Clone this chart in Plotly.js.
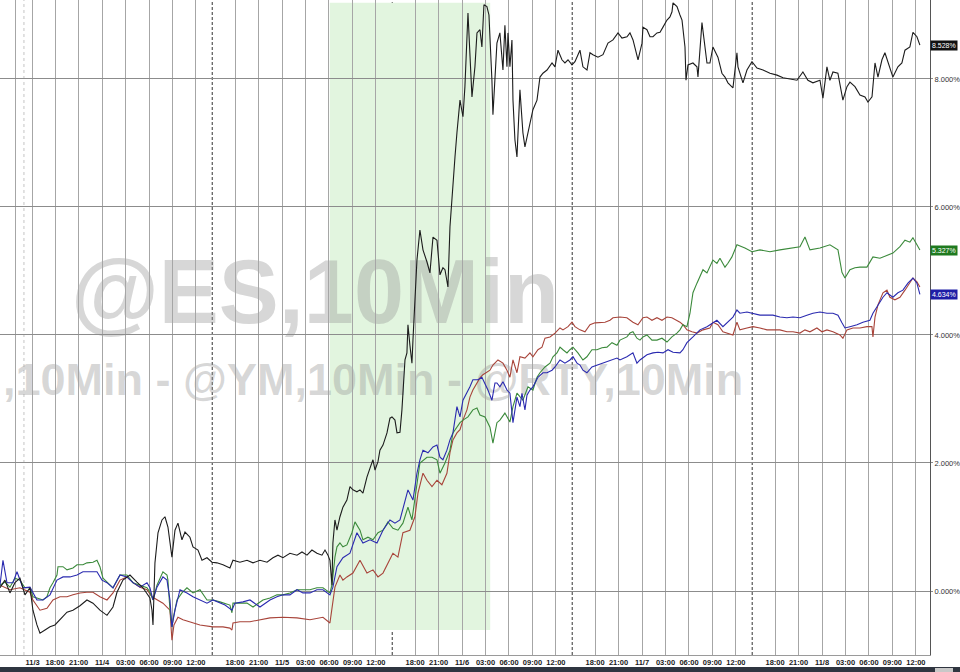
<!DOCTYPE html>
<html><head><meta charset="utf-8">
<script src="https://cdn.plot.ly/plotly-3.0.1.min.js"></script>
<style>html,body{margin:0;padding:0;background:#fff;overflow:hidden}#chart{width:960px;height:672px}
#statusbar{position:fixed;left:0;bottom:0;width:100%;height:4px;background:#2f3540;z-index:10}
#statusbar div{position:absolute;left:935px;width:18px;height:4px;background:#c8c8c8}</style>
</head><body><div id="chart"></div><div id="statusbar"><div></div></div>
<script>
// Time axis: trading hours; each session is 23 h (17:00 open, 16:00 close CT-style)
const tickHours = [-4, -1.87, 1, 4, 7, 10, 13, 16, 19, 24, 27, 30, 33, 36, 39, 42, 47, 50, 53, 56, 59, 62, 65, 70, 73, 76, 79, 82, 85, 88, 93, 96, 99, 102, 105, 108, 111];
const tickLabels = ['', '11/3', '18:00', '21:00', '11/4', '03:00', '06:00', '09:00', '12:00', '18:00', '21:00', '11/5', '03:00', '06:00', '09:00', '12:00', '18:00', '21:00', '11/6', '03:00', '06:00', '09:00', '12:00', '18:00', '21:00', '11/7', '03:00', '06:00', '09:00', '12:00', '18:00', '21:00', '11/8', '03:00', '06:00', '09:00', '12:00'];
const sessionBreaks = [21.08, 44.08, 67.08, 90.08];
const weekendBreak = [-2.98];
const shadeWindow = [36.1, 56.6];
const pctTicks = [0, 2, 4, 6, 8];
const pctLabels = ['0.000%', '2.000%', '4.000%', '6.000%', '8.000%'];

// Black series (% change)
const blackT = [-6.04,-5.41,-4.77,-4.13,-3.49,-2.85,-2.21,-1.83,-1.32,-0.93,-0.29,0.35,0.98,1.62,2.52,3.28,4.18,5.07,5.84,6.73,7.63,8.40,8.91,9.67,10.57,11.46,12.23,13.12,13.38,13.51,13.76,14.15,14.66,15.04,15.42,15.93,16.32,16.70,17.21,17.60,18.23,18.62,19.26,19.77,20.41,21.05,21.68,22.45,23.34,23.73,24.62,25.52,26.29,27.18,28.08,28.84,29.48,30.12,31.01,31.91,32.55,33.19,33.82,34.46,35.10,35.49,35.87,36.12,36.38,36.50,36.76,37.02,37.40,37.78,38.29,38.68,39.06,39.57,39.96,40.34,40.85,41.24,41.62,41.88,42.26,42.51,42.90,43.41,43.79,44.05,44.43,44.69,45.07,45.32,45.71,45.96,46.09,46.34,46.60,46.73,46.98,47.24,47.62,48.01,48.52,48.90,49.29,49.80,50.18,50.56,50.82,51.20,51.46,51.84,52.10,52.35,52.74,53.12,53.37,53.76,54.01,54.27,54.65,54.91,55.29,55.54,55.80,56.18,56.44,56.57,56.82,56.95,57.21,57.46,57.84,58.23,58.48,58.74,58.87,59.12,59.38,59.51,59.76,60.02,60.40,60.78,61.04,61.43,62.06,62.58,62.96,63.34,63.86,64.50,64.88,65.26,65.77,66.15,66.54,67.05,67.43,68.07,68.45,68.97,69.35,69.73,70.37,71.01,71.65,72.29,72.93,73.44,74.08,74.46,74.85,75.49,76.00,76.12,76.63,77.02,77.40,77.91,78.30,78.68,79.19,79.57,79.83,79.96,80.47,80.85,81.11,81.49,81.62,81.87,82.51,83.02,83.15,83.66,83.91,84.30,84.68,85.06,85.70,86.21,86.60,86.98,87.62,88.13,88.26,88.90,89.41,90.05,90.69,91.46,92.35,93.25,94.02,94.91,95.80,96.56,97.20,97.84,98.74,99.12,99.63,100.01,100.40,101.03,101.67,102.19,102.57,103.21,103.85,104.49,104.87,105.39,105.77,106.15,106.66,107.04,107.43,108.06,108.70,109.21,109.60,110.23,110.62,111.13,111.51];
const blackV = [0.05,0.17,-0.03,0.13,0.20,-0.06,0.05,-0.30,-0.53,-0.66,-0.61,-0.56,-0.53,-0.45,-0.33,-0.30,-0.23,-0.14,-0.19,-0.30,-0.38,-0.25,-0.02,0.17,0.25,0.14,0.05,-0.11,-0.30,-0.53,0.44,0.91,1.11,1.16,1.00,0.53,0.95,1.06,0.80,0.92,0.84,0.69,0.64,0.48,0.52,0.45,0.44,0.41,0.36,0.48,0.45,0.48,0.44,0.48,0.45,0.52,0.56,0.52,0.59,0.56,0.61,0.56,0.64,0.59,0.56,0.64,0.56,0.48,0.09,0.75,1.11,0.95,1.16,1.31,1.42,1.63,1.58,1.55,1.58,1.53,1.78,1.92,2.05,1.89,2.02,2.20,2.28,2.47,2.70,2.72,2.67,2.47,2.48,2.83,3.61,3.72,4.16,3.84,3.56,3.92,4.55,5.17,5.64,5.33,5.14,4.97,5.53,5.48,4.94,5.05,5.02,4.75,5.69,6.42,6.78,7.16,7.67,7.41,7.88,9.03,8.45,7.72,8.19,8.72,8.77,8.50,9.16,9.13,9.00,8.72,7.98,7.44,7.98,8.56,8.72,8.14,8.84,8.19,8.72,8.19,8.61,7.67,7.05,6.78,7.83,7.16,6.94,7.16,7.52,7.67,8.03,8.09,8.14,8.25,8.19,8.45,8.30,8.25,8.30,8.22,8.27,8.45,8.19,8.14,8.41,8.38,8.34,8.38,8.56,8.61,8.72,8.64,8.66,8.72,8.61,8.30,8.56,8.81,8.77,8.66,8.66,8.72,8.73,8.81,8.92,8.97,9.05,9.19,9.13,9.00,8.92,8.50,7.98,8.22,8.25,8.19,8.03,8.88,8.61,8.25,8.25,8.50,8.34,8.09,8.03,7.94,7.86,8.41,8.19,7.94,8.14,8.27,8.17,8.14,8.09,8.06,8.02,8.00,7.98,8.11,7.98,7.94,7.98,7.70,8.19,7.98,8.11,8.09,7.67,7.88,7.95,7.88,7.75,7.72,7.64,7.72,8.25,8.03,8.30,8.41,8.25,8.03,8.19,8.25,8.45,8.50,8.73,8.66,8.528];

// Green series
const greenT = [-6.04,-5.41,-4.77,-4.13,-3.49,-2.85,-2.21,-1.83,-1.32,-0.55,-0.04,0.35,0.73,1.24,1.37,1.62,2.01,2.52,3.28,3.80,4.56,5.07,5.84,6.35,6.73,7.12,7.63,8.40,9.29,10.18,10.95,11.85,12.74,13.12,13.51,14.02,14.78,15.30,15.42,15.68,15.93,16.06,16.57,17.21,17.85,18.62,19.51,20.41,21.17,22.07,23.34,23.60,23.73,24.62,25.52,26.29,27.56,28.46,29.35,30.12,31.01,31.91,32.67,33.57,34.46,35.23,36.12,36.38,36.76,37.02,37.40,37.78,38.29,38.93,39.32,39.57,39.96,40.34,40.98,41.62,42.26,42.90,43.53,44.17,44.81,45.45,46.09,46.60,47.24,47.62,48.52,49.16,49.80,50.18,50.82,51.46,51.84,52.35,52.74,53.12,53.76,54.39,54.91,55.29,55.93,56.57,56.95,57.46,57.84,58.48,59.12,59.51,60.02,60.78,61.43,62.06,62.58,62.96,63.60,64.24,64.62,65.13,65.52,65.90,66.41,66.79,67.18,67.81,68.45,68.96,69.60,70.24,70.88,71.52,72.16,72.80,73.18,74.07,74.46,74.84,75.35,75.74,76.12,76.63,77.27,77.91,78.55,79.19,79.82,80.46,80.85,81.23,81.74,82.13,82.51,83.02,83.40,83.79,84.30,84.68,85.06,85.57,85.96,86.60,86.98,87.49,87.87,88.13,89.15,90.05,91.07,92.35,93.62,94.90,96.18,96.82,97.46,98.74,100.01,101.04,101.55,101.93,102.57,103.21,103.85,104.74,105.51,106.40,107.30,108.06,108.96,109.60,110.23,110.62,111.13,111.51];
const greenV = [0.09,0.14,0.06,0.20,0.17,0.05,0.05,-0.09,-0.11,-0.14,-0.09,0.05,0.13,0.25,0.38,0.38,0.38,0.33,0.36,0.41,0.41,0.44,0.45,0.48,0.38,0.20,0.14,0.05,0.25,0.25,0.13,0.09,0.05,-0.02,-0.14,0.09,0.30,0.25,0.17,-0.30,-0.56,-0.45,-0.14,-0.03,0.05,-0.03,0.02,-0.14,-0.14,-0.17,-0.22,-0.34,-0.19,-0.19,-0.19,-0.25,-0.14,-0.11,-0.06,-0.06,-0.03,0.02,0.02,0.02,0.05,0.05,-0.03,0.09,0.53,0.69,0.75,0.69,0.72,0.91,1.08,1.03,0.95,0.80,0.84,0.80,0.91,0.95,1.08,0.98,0.95,1.06,1.31,1.11,1.63,2.00,2.09,2.09,2.05,1.84,2.00,2.20,2.47,2.56,2.63,2.67,2.72,2.83,2.86,2.75,2.72,2.56,2.31,2.63,2.67,2.78,2.64,2.88,3.09,2.98,3.19,3.14,3.34,3.41,3.50,3.56,3.66,3.72,3.81,3.77,3.72,3.77,3.81,3.72,3.61,3.66,3.77,3.77,3.80,3.81,3.88,3.84,3.92,3.97,4.03,4.05,3.95,3.92,3.97,4.00,3.92,3.92,3.95,3.89,3.97,4.03,4.08,4.16,4.13,4.34,4.66,4.81,4.91,5.02,4.97,5.06,5.17,5.12,5.20,5.06,5.12,5.22,5.33,5.41,5.36,5.30,5.33,5.30,5.33,5.36,5.38,5.53,5.33,5.36,5.41,5.33,4.98,4.89,5.02,5.05,5.06,5.06,5.22,5.20,5.25,5.28,5.38,5.48,5.45,5.52,5.41,5.327];

// Blue series
const blueT = [-6.04,-5.66,-5.15,-4.38,-3.87,-3.11,-2.21,-1.83,-1.32,-0.55,0.35,1.24,2.01,2.90,3.80,4.56,5.46,6.35,6.99,7.63,8.40,9.29,10.18,10.95,11.85,12.74,13.12,13.51,14.02,14.78,15.30,15.68,15.93,16.32,16.96,17.85,18.62,19.51,20.41,21.17,21.68,22.71,23.60,23.98,25.01,25.90,27.18,28.46,29.35,30.12,31.01,31.91,32.67,33.57,34.46,35.23,36.12,36.50,37.02,37.78,38.68,39.57,40.34,41.24,42.13,42.90,43.79,44.43,45.07,45.71,46.09,46.73,47.24,47.62,48.01,48.65,49.29,49.80,50.18,50.56,51.07,51.46,51.84,52.35,52.74,53.12,53.63,54.01,54.39,55.03,55.54,55.93,56.31,56.82,57.21,57.46,57.84,58.23,58.74,59.12,59.51,60.02,60.40,60.66,61.04,61.30,61.68,62.06,62.70,63.34,63.86,64.50,64.88,65.52,66.15,66.79,67.18,67.69,68.07,68.45,68.96,69.60,70.24,70.88,71.52,72.16,72.80,73.18,74.07,74.84,75.35,75.74,76.63,77.40,78.04,78.68,79.32,79.96,80.85,81.23,81.74,82.51,83.40,84.30,85.06,85.57,86.34,86.98,87.62,88.13,88.51,89.41,90.17,91.07,91.96,92.73,93.62,94.52,95.29,96.18,97.07,97.84,98.74,99.63,100.40,101.04,101.55,101.93,102.57,103.47,104.23,105.12,105.51,106.02,106.40,106.79,107.30,108.06,108.70,109.34,109.98,110.62,111.13,111.51];
const blueV = [0.09,0.48,0.13,0.13,0.30,0.05,0.06,-0.03,-0.14,-0.14,-0.06,0.17,0.22,0.22,0.25,0.30,0.30,0.30,0.17,0.13,0.05,0.25,0.22,0.13,0.06,0.13,0.05,-0.14,0.06,0.22,0.17,-0.14,-0.56,-0.30,0.02,-0.03,-0.09,-0.14,-0.19,-0.14,-0.17,-0.22,-0.30,-0.19,-0.17,-0.14,-0.25,-0.14,-0.09,-0.06,-0.06,0.02,-0.03,-0.03,0.02,0.02,-0.06,0.06,0.38,0.52,0.59,0.91,0.75,0.80,0.75,0.95,1.11,1.06,1.11,1.42,1.58,1.42,1.84,2.05,2.20,2.16,2.25,2.28,2.09,2.05,2.20,2.36,2.47,2.88,2.72,2.98,3.09,3.19,3.30,3.30,3.34,3.25,3.14,2.98,3.25,3.25,3.19,3.27,3.14,3.09,2.63,3.03,2.88,3.09,2.83,3.06,3.14,3.19,3.34,3.41,3.41,3.45,3.50,3.61,3.56,3.61,3.66,3.56,3.53,3.45,3.41,3.50,3.53,3.56,3.58,3.61,3.64,3.61,3.66,3.72,3.56,3.61,3.69,3.72,3.73,3.72,3.77,3.73,3.72,3.77,3.88,3.97,4.08,4.13,4.19,4.23,4.13,4.20,4.28,4.39,4.34,4.36,4.34,4.31,4.31,4.31,4.28,4.27,4.28,4.27,4.31,4.34,4.36,4.34,4.34,4.31,4.19,4.11,4.13,4.16,4.20,4.23,4.34,4.44,4.50,4.59,4.66,4.59,4.66,4.70,4.81,4.89,4.81,4.634];

// Red series
const redT = [-6.04,-4.77,-3.49,-2.21,-1.83,-0.93,-0.04,0.73,1.62,2.52,3.28,4.18,5.07,5.84,6.73,7.63,8.40,9.29,10.18,10.95,11.85,12.74,13.38,14.02,14.78,15.68,15.93,16.19,16.70,17.34,18.62,19.51,21.17,22.45,23.34,23.60,23.73,24.62,25.90,27.18,28.46,30.12,31.91,33.57,35.23,36.12,36.38,36.76,37.40,37.78,38.29,39.06,39.96,40.85,41.62,42.26,42.90,43.53,44.17,44.81,45.45,46.34,46.98,47.37,48.01,48.52,49.16,49.80,50.43,51.07,51.46,51.84,52.35,52.74,53.12,53.63,54.01,54.39,54.91,55.29,55.67,56.18,56.57,56.95,57.59,58.23,58.74,59.12,59.51,60.02,60.40,61.04,61.68,62.06,62.70,63.22,63.60,64.24,64.88,65.52,65.90,66.54,67.05,67.43,68.07,68.71,69.35,69.99,70.62,71.27,71.91,72.29,73.18,74.07,74.84,75.48,76.12,76.63,77.27,77.91,78.55,79.19,79.82,80.46,80.85,81.23,81.74,82.38,83.02,83.79,84.68,85.06,85.70,86.34,86.98,87.62,88.13,88.51,89.41,90.17,91.07,91.96,92.73,93.62,94.52,95.29,96.18,96.82,97.46,98.35,98.99,99.63,100.40,101.29,101.67,102.19,102.95,103.85,104.74,105.38,105.51,105.77,106.15,106.79,107.30,107.68,108.32,108.96,109.60,110.23,110.62,111.13,111.51];
const redV = [0.09,0.02,0.05,-0.02,-0.14,-0.30,-0.27,-0.14,-0.09,-0.09,-0.06,-0.03,-0.02,-0.02,-0.09,-0.14,-0.03,0.17,0.22,0.13,0.06,0.02,-0.09,-0.14,-0.19,-0.30,-0.77,-0.53,-0.41,-0.45,-0.50,-0.53,-0.56,-0.56,-0.58,-0.61,-0.50,-0.48,-0.48,-0.45,-0.42,-0.41,-0.42,-0.45,-0.41,-0.50,-0.30,0.06,0.25,0.17,0.22,0.28,0.48,0.28,0.33,0.22,0.28,0.44,0.59,0.53,0.91,0.95,1.16,1.53,1.84,1.73,1.63,1.73,1.66,1.84,2.16,2.36,2.47,2.52,2.67,2.83,3.03,3.14,3.25,3.33,3.38,3.42,3.45,3.53,3.61,3.56,3.45,3.34,3.61,3.41,3.66,3.64,3.72,3.66,3.77,3.81,3.95,3.97,4.03,4.11,4.08,4.13,4.20,4.13,4.08,4.05,4.16,4.19,4.20,4.20,4.23,4.27,4.28,4.27,4.20,4.16,4.27,4.28,4.23,4.27,4.23,4.28,4.27,4.23,4.20,4.16,4.08,4.05,4.03,4.08,4.11,4.20,4.16,4.05,4.03,4.00,4.20,4.08,4.11,4.13,4.11,4.08,4.08,4.08,4.05,4.05,4.03,4.08,4.05,4.11,4.05,4.08,4.05,4.00,3.95,4.08,4.11,4.11,4.13,4.13,3.97,4.28,4.47,4.66,4.70,4.59,4.55,4.59,4.70,4.81,4.89,4.83,4.75];

const FONT = 'Liberation Sans, Arial, sans-serif';
const traces = [
  {x: redT, y: redV, color: '#a8443a'},
  {x: greenT, y: greenV, color: '#3b8a3b'},
  {x: blueT, y: blueV, color: '#2a2ab0'},
  {x: blackT, y: blackV, color: '#1c1c1c'}
].map(s => ({type: 'scatter', mode: 'lines', x: s.x, y: s.y, line: {color: s.color, width: 1.1}, hoverinfo: 'skip', showlegend: false}));

const WM = 'rgba(150,150,150,0.38)';
const shapes = [];
// event window shading
shapes.push({type: 'rect', xref: 'x', yref: 'y', x0: shadeWindow[0], x1: shadeWindow[1], y0: -0.61, y1: 9.19,
  fillcolor: 'rgb(226,245,223)', line: {width: 0}, layer: 'below'});
// watermarks (drawn in the same layer, after the shading)
shapes.push({type: 'rect', xref: 'x', yref: 'y', x0: 4.82, x1: 63.6, y0: 4.26, y1: 5.35,
  fillcolor: 'rgba(0,0,0,0)', line: {width: 0}, layer: 'below',
  label: {text: '@ES,10Min', textposition: 'middle center', padding: 0,
    font: {family: FONT, size: 90, color: WM, weight: 'bold'}}});
shapes.push({type: 'rect', xref: 'x', yref: 'y', x0: -6.04, x1: 88.65, y0: 3.02, y1: 3.72,
  fillcolor: 'rgba(0,0,0,0)', line: {width: 0}, layer: 'below',
  label: {text: ',10Min - @YM,10Min - @RTY,10Min', textposition: 'middle left', padding: 0,
    font: {family: FONT, size: 45, color: WM, weight: 'bold'}}});
sessionBreaks.forEach(h => shapes.push({type: 'line', xref: 'x', yref: 'paper', x0: h, x1: h, y0: 0, y1: 1,
  line: {color: '#333', width: 1, dash: '3px,2px'}, layer: 'below'}));
weekendBreak.forEach(h => shapes.push({type: 'line', xref: 'x', yref: 'paper', x0: h, x1: h, y0: 0, y1: 1,
  line: {color: '#c4c4c4', width: 1, dash: 'dot'}, layer: 'below'}));
// application status bar along the bottom edge
shapes.push({type: 'rect', xref: 'paper', yref: 'paper', x0: -0.01, x1: 1.04, y0: -0.03, y1: -0.0185,
  fillcolor: '#2f3540', line: {width: 0}, layer: 'above'});

const lastLabels = [
  {v: blackV[blackV.length - 1], bg: '#111111'},
  {v: greenV[greenV.length - 1], bg: '#1f7a1f'},
  {v: blueV[blueV.length - 1], bg: '#1e1ea6'}
];
const annotations = lastLabels.map(l => ({xref: 'paper', yref: 'y', x: 1, xanchor: 'left', xshift: 0, y: l.v,
  text: l.v.toFixed(3) + '%', showarrow: false, bgcolor: l.bg, borderpad: 1,
  font: {family: FONT, size: 7, color: '#ffffff'}}));

const layout = {
  width: 960, height: 672,
  margin: {l: 0, r: 30, t: 0, b: 17, pad: 0},
  paper_bgcolor: '#ffffff', plot_bgcolor: '#ffffff',
  showlegend: false,
  xaxis: {range: [-6.04, 112.8], tickmode: 'array', tickvals: tickHours, ticktext: tickLabels,
    showgrid: true, gridcolor: '#a6a6a6', gridwidth: 1, zeroline: false, showline: true, linecolor: '#9a9a9a',
    ticks: '', tickfont: {family: FONT, size: 7.5, color: '#1a1a1a', weight: 'bold'}, tickangle: 0, fixedrange: true},
  yaxis: {side: 'right', range: [-1.0, 9.234], tickmode: 'array', tickvals: pctTicks, ticktext: pctLabels,
    showgrid: true, gridcolor: '#8c8c8c', gridwidth: 1, zeroline: false, showline: true, linecolor: '#555555',
    ticks: 'outside', ticklen: 2, tickcolor: '#8c8c8c', tickfont: {family: FONT, size: 7.5, color: '#333'}, fixedrange: true},
  shapes: shapes,
  annotations: annotations
};
Plotly.newPlot('chart', traces, layout, {displayModeBar: false, staticPlot: true});
</script>
</body></html>
